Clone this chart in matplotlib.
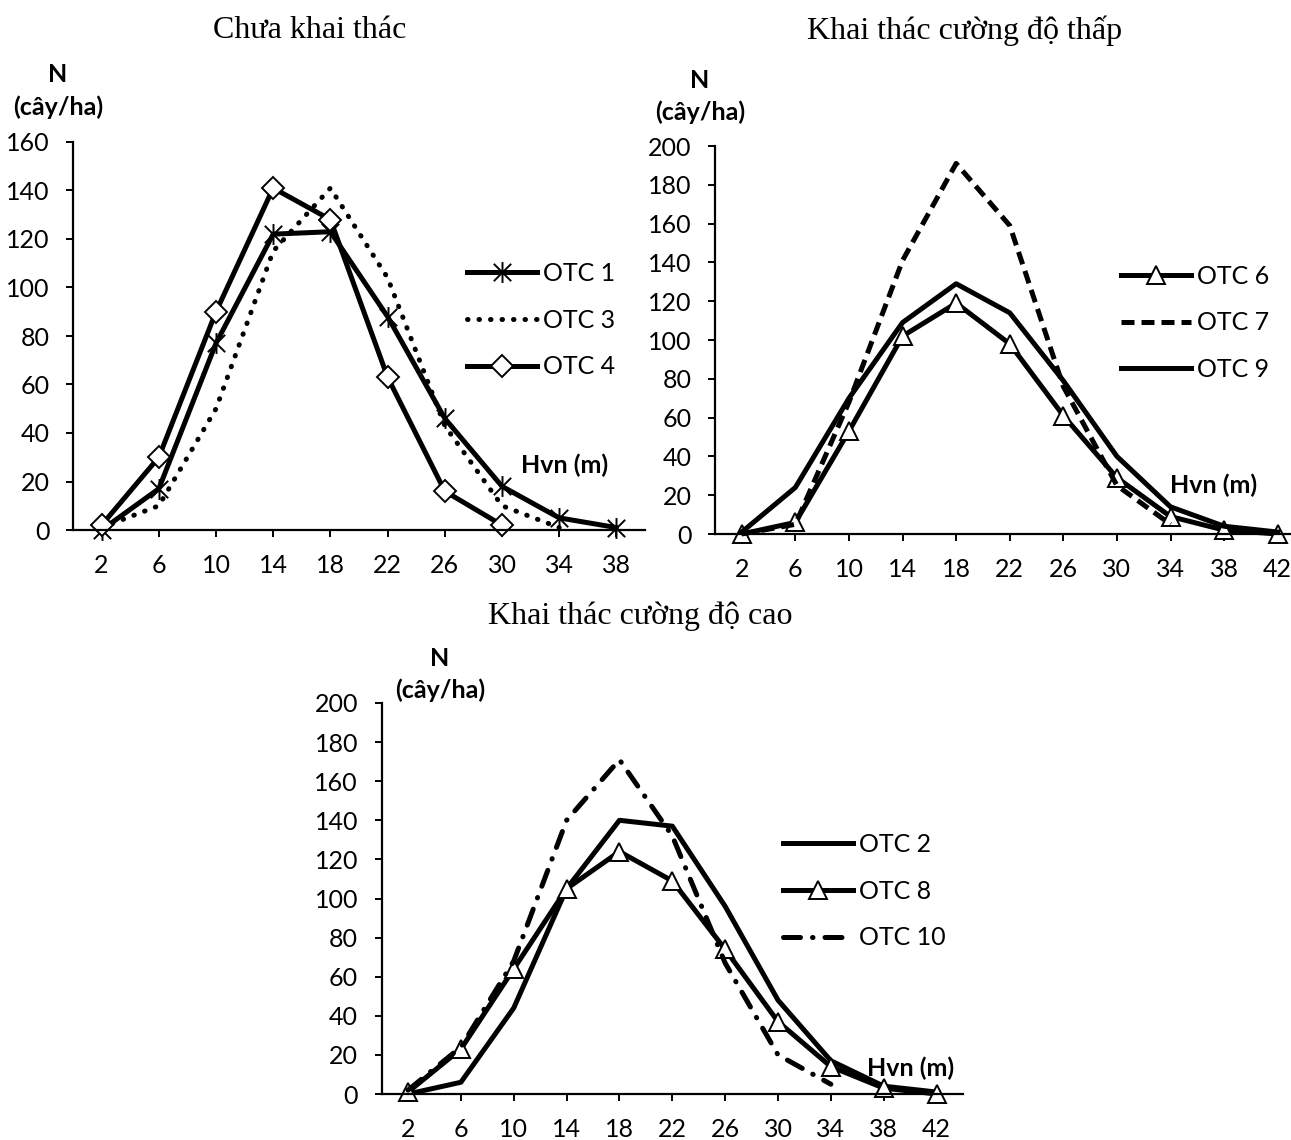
import matplotlib
matplotlib.use("Agg")
import matplotlib.pyplot as plt
import numpy as np
from matplotlib.path import Path

nan = np.nan

# Chưa khai thác
h1 = ["2", "6", "10", "14", "18", "22", "26", "30", "34", "38"]
otc1 = [0, 17, 77, 122, 123, 88, 46, 18, 5, 1]
otc3 = [1, 10, 50, 115, 141, 104, 43, 10, 1, nan]
otc4 = [2, 30, 90, 141, 128, 63, 16, 2, nan, nan]

# Khai thác cường độ thấp
h2 = ["2", "6", "10", "14", "18", "22", "26", "30", "34", "38", "42"]
otc6 = [0, 6, 53, 102, 119, 98, 61, 29, 9, 2, 0]
otc7 = [0, 5, 68, 141, 191, 159, 76, 25, 5, nan, nan]
otc9 = [1, 24, 70, 109, 129, 114, 79, 40, 14, 4, 1]

# Khai thác cường độ cao
h3 = ["2", "6", "10", "14", "18", "22", "26", "30", "34", "38", "42"]
otc2 = [0, 6, 44, 105, 140, 137, 96, 48, 17, 4, 1]
otc8 = [1, 23, 64, 105, 124, 109, 74, 37, 14, 3, 0]
otc10 = [2, 24, 68, 140, 171, 132, 67, 20, 5, nan, nan]

# star marker like Excel: X plus vertical bar
star = Path([(-1, -1), (1, 1), (-1, 1), (1, -1), (0, -1.2), (0, 1.2)],
            [Path.MOVETO, Path.LINETO, Path.MOVETO, Path.LINETO, Path.MOVETO, Path.LINETO])

W, H = 1291, 1140
fig = plt.figure(figsize=(W / 100, H / 100), dpi=100)

TICKFONT = "Lato"
LW = 3.6
FS = 18


def box(l, t, r, b):
    return [l / W, 1 - b / H, (r - l) / W, (b - t) / H]


def setup(ax, cats, ymax):
    ax.set_xlim(-0.5, len(cats) - 0.5)
    ax.set_ylim(0, ymax)
    ax.set_xticks(np.arange(len(cats)))
    ax.set_xticklabels(cats)
    ax.set_yticks(np.arange(0, ymax + 1, 20))
    for s in ["top", "right"]:
        ax.spines[s].set_visible(False)
    for s in ["left", "bottom"]:
        ax.spines[s].set_linewidth(1.6)
    ax.tick_params(direction="out", length=5, width=1.4, pad=12, labelsize=FS)
    for lab in ax.get_xticklabels() + ax.get_yticklabels():
        lab.set_fontfamily(TICKFONT)


def legend(ax, x, y):
    lg = ax.legend(loc="center left", bbox_to_anchor=(x, y), frameon=False,
                   prop={"family": TICKFONT, "size": FS}, handlelength=2.8,
                   handletextpad=0.25, labelspacing=0.95, numpoints=1,
                   borderaxespad=0, borderpad=0)
    return lg


title_kw = dict(family="Liberation Serif", fontsize=23, ha="center", va="center")
lab_kw = dict(family=TICKFONT, fontsize=18, fontweight="bold", ha="center", va="center")

# panel 1
ax1 = fig.add_axes(box(73, 142, 645, 530))
x = np.arange(len(h1))
ax1.plot(x, otc1, color="black", lw=LW, marker=star, ms=15, mew=1.4, mfc="none",
         label="OTC 1", clip_on=False)
ax1.plot(x, otc3, color="black", lw=LW, ls=(0, (0.1, 2.2)), dash_capstyle="round",
         label="OTC 3", clip_on=False)
ax1.plot(x, otc4, color="black", lw=LW, marker="D", ms=11, mfc="white", mec="black",
         mew=1.4, label="OTC 4", clip_on=False)
setup(ax1, h1, 160)
legend(ax1, 0.689, 0.541)
ax1.text(0.86, 0.168, "Hvn (m)", transform=ax1.transAxes, **lab_kw)
fig.text(310 / W, 1 - 31 / H, "Chưa khai thác", **title_kw)
fig.text(58 / W, 1 - 74 / H, "N", **lab_kw)
fig.text(58 / W, 1 - 107 / H, "(cây/ha)", **lab_kw)

# panel 2
ax2 = fig.add_axes(box(715, 146, 1304.5, 534))
x = np.arange(len(h2))
ax2.plot(x, otc6, color="black", lw=LW, marker="^", ms=13, mfc="white", mec="black",
         mew=1.4, label="OTC 6", clip_on=False)
ax2.plot(x, otc7, color="black", lw=LW, ls=(0, (2.6, 1.4)), label="OTC 7", clip_on=False)
ax2.plot(x, otc9, color="black", lw=LW, label="OTC 9", clip_on=False)
setup(ax2, h2, 200)
legend(ax2, 0.689, 0.544)
ax2.text(0.845, 0.126, "Hvn (m)", transform=ax2.transAxes, **lab_kw)
fig.text(965 / W, 1 - 31 / H, "Khai thác cường độ thấp", **title_kw)
fig.text(700 / W, 1 - 80 / H, "N", **lab_kw)
fig.text(700 / W, 1 - 112 / H, "(cây/ha)", **lab_kw)

# panel 3
ax3 = fig.add_axes(box(381.6, 703, 963, 1094))
x = np.arange(len(h3))
ax3.plot(x, otc2, color="black", lw=LW, label="OTC 2", clip_on=False)
ax3.plot(x, otc8, color="black", lw=LW, marker="^", ms=13, mfc="white", mec="black",
         mew=1.4, label="OTC 8", clip_on=False)
ax3.plot(x, otc10, color="black", lw=LW, ls=(0, (3.4, 2.4, 0.1, 2.4)),
         dash_capstyle="round", label="OTC 10", clip_on=False)
setup(ax3, h3, 200)
legend(ax3, 0.69, 0.519)
ax3.text(0.909, 0.066, "Hvn (m)", transform=ax3.transAxes, **lab_kw)
fig.text(640 / W, 1 - 616 / H, "Khai thác cường độ cao", **title_kw)
fig.text(440 / W, 1 - 658 / H, "N", **lab_kw)
fig.text(440 / W, 1 - 690 / H, "(cây/ha)", **lab_kw)

fig.savefig("out.png", dpi=100)
